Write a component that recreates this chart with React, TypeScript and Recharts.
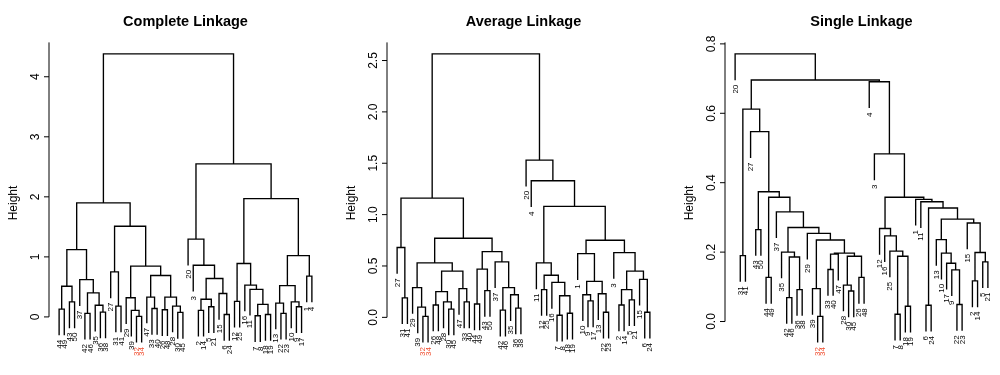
import React from 'react';
import { ComposedChart, Line, Scatter, XAxis, YAxis, ReferenceLine } from 'recharts';

// nested merges: [height, left, right], leaves are observation numbers
type Tree = number | [number, Tree, Tree];

const completeTree: Tree = [4.38,
  [1.9,
    [1.12,
      [0.51, [0.13, 44, 49], [0.25, 43, 50]],
      [0.62, 37, [0.4, [0.06, 42, 46], [0.195, 35, [0.08, 36, 38]]]]
    ],
    [1.51,
      [0.75, 27, [0.18, 31, 41]],
      [0.845,
        [0.32, 29, [0.11, 39, [0.01, 32, 34]]],
        [0.69,
          [0.33, 47, [0.14, 33, 40]],
          [0.33, [0.12, 26, 48], [0.18, 28, [0.075, 30, 45]]]
        ]
      ]
    ]
  ],
  [2.55,
    [1.295, 20, [0.86, 3, [0.64, [0.295, [0.11, 2, 14], [0.17, 5, 21]], [0.39, 15, [0.04, 6, 24]]]]],
    [1.97,
      [0.89, [0.26, 12, 25], [0.53, 16, [0.46, 11, [0.21, [0.02, 7, 8], [0.04, 18, 19]]]]],
      [1.02,
        [0.52, [0.23, 13, [0.06, 22, 23]], [0.25, 10, [0.17, 9, 17]]],
        [0.68, 1, 4]
      ]
    ]
  ]
];

const averageTree: Tree = [2.564,
  [1.16,
    [0.68, 27, [0.19, 31, 41]],
    [0.77,
      [0.53,
        [0.29, 29, [0.1, 39, [0.01, 32, 34]]],
        [0.45,
          [0.25, [0.12, 26, 48], [0.15, 28, [0.08, 30, 45]]],
          [0.28, 47, [0.15, 33, 40]]
        ]
      ],
      [0.64,
        [0.47, [0.13, 44, 49], [0.26, 43, 50]],
        [0.54, 37, [0.29, [0.07, 42, 46], [0.22, 35, [0.09, 36, 38]]]]
      ]
    ]
  ],
  [1.53, 20,
    [1.33, 4,
      [1.08,
        [0.53, 11, [0.41, [0.27, 12, 25], [0.34, 16, [0.21, [0.02, 7, 8], [0.04, 18, 19]]]]],
        [0.75,
          [0.62, 1, [0.35, [0.22, 10, [0.16, 9, 17]], [0.23, 13, [0.05, 22, 23]]]],
          [0.63, 3, [0.45, [0.27, [0.12, 2, 14], [0.17, 5, 21]], [0.37, 15, [0.05, 6, 24]]]]
        ]
      ]
    ]
  ]
];

const singleTree: Tree = [0.771, 20,
  [0.696,
    [0.612, [0.19, 31, 41],
      [0.547, 27,
        [0.374, [0.265, 43, 50],
          [0.358, [0.127, 44, 49],
            [0.316, 37,
              [0.271,
                [0.2, 35, [0.186, [0.069, 42, 46], [0.092, 36, 38]]],
                [0.254, 29,
                  [0.235,
                    [0.095, 39, [0.015, 32, 34]],
                    [0.197,
                      [0.194, [0.15, 33, 40], 47],
                      [0.188, [0.105, 28, [0.088, 30, 45]], [0.127, 26, 48]]
                    ]
                  ]
                ]
              ]
            ]
          ]
        ]
      ]
    ],
    [0.691, 4,
      [0.483, 3,
        [0.358,
          [0.268, 12, [0.247, 16, [0.203, 25, [0.188, [0.021, 7, 8], [0.044, 18, 19]]]]],
          [0.352, 1,
            [0.345, 11,
              [0.327, [0.047, 6, 24],
                [0.295,
                  [0.236, 13, [0.197, 10, [0.168, 17, [0.149, 9, [0.049, 22, 23]]]]],
                  [0.284, 15, [0.199, [0.117, 2, 14], [0.172, 5, 21]]]
                ]
              ]
            ]
          ]
        ]
      ]
    ]
  ]
];

const completeTicks = [0, 1, 2, 3, 4];
const averageTicks = [0, 0.5, 1, 1.5, 2, 2.5];
const singleTicks = [0, 0.2, 0.4, 0.6, 0.8];

const highlighted = [32, 34];

const panels = [
  { title: 'Complete Linkage', tree: completeTree, ticks: completeTicks, digits: 0 },
  { title: 'Average Linkage', tree: averageTree, ticks: averageTicks, digits: 1 },
  { title: 'Single Linkage', tree: singleTree, ticks: singleTicks, digits: 1 },
];

const FONT = '"Liberation Sans", Arial, Helvetica, sans-serif';
const RED = '#f04e30';
const GRAY_AA = { filter: 'grayscale(1)' };
const N_LEAVES = 50;
const X_PAD = 0.04 * (N_LEAVES - 1);
const X_DOMAIN = [1 - X_PAD, N_LEAVES + X_PAD];

const PANEL_W = 324;
const PANEL_STEP = 338;
const AXIS_X = 49;
const PLOT_W = 273;

function collectHeights(t: Tree, out: number[] = []) {
  if (typeof t !== 'number') {
    out.push(t[0]);
    collectHeights(t[1], out);
    collectHeights(t[2], out);
  }
  return out;
}

// same geometry as plot.hclust with hang = 0.1
function layout(tree: Tree) {
  const hs = collectHeights(tree);
  const maxH = Math.max(...hs);
  const minH = Math.min(...hs);
  const hang = 0.1 * (maxH - minH);
  const segs: { x: number; y: number | null }[] = [];
  const leaves: { x: number; y: number; lab: number }[] = [];
  let n = 0;

  const walk = (t: Tree): { x: number; h: number | null; lab?: number } => {
    if (typeof t === 'number') {
      n += 1;
      return { x: n, h: null, lab: t };
    }
    const [h, a, b] = t;
    const l = walk(a);
    const r = walk(b);
    const bottom = (c: { x: number; h: number | null; lab?: number }) => {
      if (c.h === null) {
        const y = h - hang;
        leaves.push({ x: c.x, y, lab: c.lab as number });
        return y;
      }
      return c.h;
    };
    const yl = bottom(l);
    const yr = bottom(r);
    segs.push({ x: l.x, y: yl }, { x: l.x, y: h }, { x: r.x, y: h }, { x: r.x, y: yr }, { x: r.x, y: null });
    return { x: (l.x + r.x) / 2, h };
  };
  walk(tree);

  const lo = minH - hang;
  const pad = 0.04 * (maxH - lo);
  return { segs, leaves, domain: [lo - pad, maxH + pad] };
}

const LeafLabel = (p: any) => {
  const { cx, cy } = p;
  const lab = p.payload?.lab ?? p.lab;
  const y = cy + 4.5;
  const red = highlighted.includes(lab);
  return (
    <text
      x={cx}
      y={y}
      transform={`rotate(-90 ${cx} ${y})`}
      textAnchor="end"
      dominantBaseline="central"
      fontSize={8}
      fontFamily={FONT}
      fill={red ? RED : '#000'}
      style={red ? undefined : GRAY_AA}
    >
      {lab}
    </text>
  );
};

function Dendrogram({ panel, left }: { panel: (typeof panels)[number]; left: number }) {
  const { segs, leaves, domain } = layout(panel.tree);
  return (
    <div style={{ position: 'absolute', left, top: 0 }}>
      <ComposedChart width={PANEL_W} height={375} margin={{ top: 42.4, right: 2, bottom: 20.9, left: 9 }}>
        <XAxis type="number" dataKey="x" domain={X_DOMAIN} hide />
        <YAxis
          type="number"
          domain={domain}
          ticks={panel.ticks}
          interval={0}
          width={40}
          axisLine={false}
          tickSize={5}
          tickMargin={5}
          tickLine={{ stroke: '#000', strokeWidth: 1 }}
          tick={(p: any) => (
            <text
              x={p.x}
              y={p.y}
              transform={`rotate(-90 ${p.x} ${p.y})`}
              textAnchor="middle"
              fontSize={12}
              fontFamily={FONT}
              fill="#000"
              style={GRAY_AA}
            >
              {Number(p.payload.value).toFixed(panel.digits)}
            </text>
          )}
        />
        <ReferenceLine
          segment={[{ x: X_DOMAIN[0], y: 0 }, { x: X_DOMAIN[0], y: domain[1] }]}
          stroke="#000"
          strokeWidth={1}
        />
        <Line
          data={segs}
          dataKey="y"
          type="linear"
          stroke="#000"
          strokeWidth={1.35}
          dot={false}
          activeDot={false}
          connectNulls={false}
          isAnimationActive={false}
        />
        <Scatter data={leaves} dataKey="y" shape={LeafLabel} isAnimationActive={false} />
      </ComposedChart>
    </div>
  );
}

export default function App() {
  return (
    <div style={{ position: 'absolute', left: 0, top: 0, width: 1000, height: 375, background: '#fff', fontFamily: FONT }}>
      <svg width={1000} height={375} style={{ position: 'absolute', left: 0, top: 0 }}>
        {panels.map((p, i) => {
          const axisX = i * PANEL_STEP + AXIS_X;
          return (
            <g key={p.title} style={GRAY_AA}>
              <text x={axisX + PLOT_W / 2} y={25.5} textAnchor="middle" fontSize={14.5} fontWeight="bold" fontFamily={FONT}>
                {p.title}
              </text>
              <text
                x={axisX - 32}
                y={203}
                transform={`rotate(-90 ${axisX - 32} 203)`}
                textAnchor="middle"
                fontSize={12}
                fontFamily={FONT}
              >
                Height
              </text>
            </g>
          );
        })}
      </svg>
      {panels.map((p, i) => (
        <Dendrogram key={p.title} panel={p} left={i * PANEL_STEP} />
      ))}
    </div>
  );
}
